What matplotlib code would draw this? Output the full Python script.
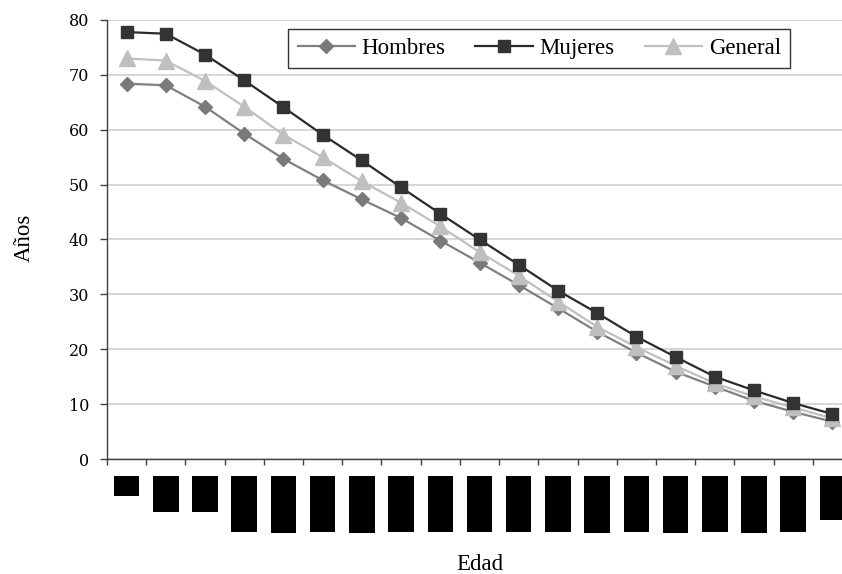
import matplotlib
matplotlib.use("Agg")
import matplotlib.pyplot as plt
from matplotlib.ticker import FixedLocator

edades = ["0", "1-4", "5-9", "10-14", "15-19", "20-24", "25-29", "30-34", "35-39",
          "40-44", "45-49", "50-54", "55-59", "60-64", "65-69", "70-74", "75-79",
          "80-84", "85+"]
hombres = [68.4, 68.1, 64.2, 59.3, 54.7, 50.8, 47.3, 43.9, 39.8, 35.8, 31.7,
           27.5, 23.2, 19.4, 15.9, 13.2, 10.6, 8.6, 6.8]
mujeres = [77.8, 77.5, 73.7, 69.0, 64.1, 59.1, 54.4, 49.5, 44.7, 40.0, 35.4,
           30.7, 26.6, 22.3, 18.6, 15.0, 12.5, 10.2, 8.2]
general = [73.0, 72.6, 68.9, 64.2, 59.1, 55.0, 50.6, 46.7, 42.4, 37.7, 33.4,
           28.7, 24.1, 20.4, 17.0, 13.8, 11.4, 9.4, 7.4]
yticks = [0, 10, 20, 30, 40, 50, 60, 70, 80]

W, H = 842, 574
fig = plt.figure(figsize=(W / 100, H / 100), dpi=100)
left, right, top, bottom = 107, 852, 20, 459
ax = fig.add_axes([left / W, 1 - bottom / H, (right - left) / W, (bottom - top) / H])

x = list(range(len(edades)))
ax.plot(x, hombres, color="#808080", lw=1.6, marker="D", ms=7.4,
        mfc="#7a7a7a", mec="#7a7a7a", label="Hombres", zorder=3)
ax.plot(x, mujeres, color="#2a2a2a", lw=1.6, marker="s", ms=9.2,
        mfc="#333333", mec="#333333", label="Mujeres", zorder=4)
ax.plot(x, general, color="#c0c0c0", lw=1.6, marker="^", ms=11,
        mfc="#bfbfbf", mec="#bfbfbf", label="General", zorder=3.5)

ax.set_xlim(-0.5, len(edades) - 0.5)
ax.set_ylim(0, 80)
ax.set_yticks(yticks)
ax.set_yticklabels([str(v) for v in yticks], fontfamily="DejaVu Serif", fontsize=11.5)
ax.tick_params(axis="y", direction="out", length=5, width=1, color="#404040", pad=8)
ax.yaxis.grid(True, color="#d0d0d0", lw=1.2)
ax.set_axisbelow(True)

ax.set_xticks(x)
ax.set_xticklabels(edades, rotation=90, fontfamily="DejaVu Sans", fontsize=11.45,
                   color="black")
ax.tick_params(axis="x", which="major", length=0, pad=16)
ax.xaxis.set_minor_locator(FixedLocator([i - 0.5 for i in range(len(edades) + 1)]))
ax.tick_params(axis="x", which="minor", direction="out", length=4.5, width=1, color="#404040")
for lbl in ax.get_xticklabels():
    lbl.set_bbox(dict(boxstyle="square,pad=0.33", facecolor="black", edgecolor="none"))

for s in ["top", "right"]:
    ax.spines[s].set_visible(False)
for s in ["left", "bottom"]:
    ax.spines[s].set_color("#404040")
    ax.spines[s].set_linewidth(1)

leg = ax.legend(loc="upper right", bbox_to_anchor=((790 - left) / (right - left), (bottom - 29) / (bottom - top)),
                ncol=3, frameon=True, fancybox=False, borderaxespad=0,
                prop={"family": "Liberation Serif", "size": 16.5},
                handlelength=2.5, handletextpad=0.3, columnspacing=1.3,
                borderpad=0.4)
leg.get_frame().set_edgecolor("black")
leg.get_frame().set_linewidth(1)

fig.text(479.5 / W, 1 - 565 / H, "Edad", ha="center", va="center",
         fontfamily="Liberation Serif", fontsize=16.5)
fig.text(24 / W, 1 - 238 / H, "Años", ha="center", va="center", rotation=90,
         fontfamily="Liberation Serif", fontsize=16.5)

fig.savefig("out.png", dpi=100)
